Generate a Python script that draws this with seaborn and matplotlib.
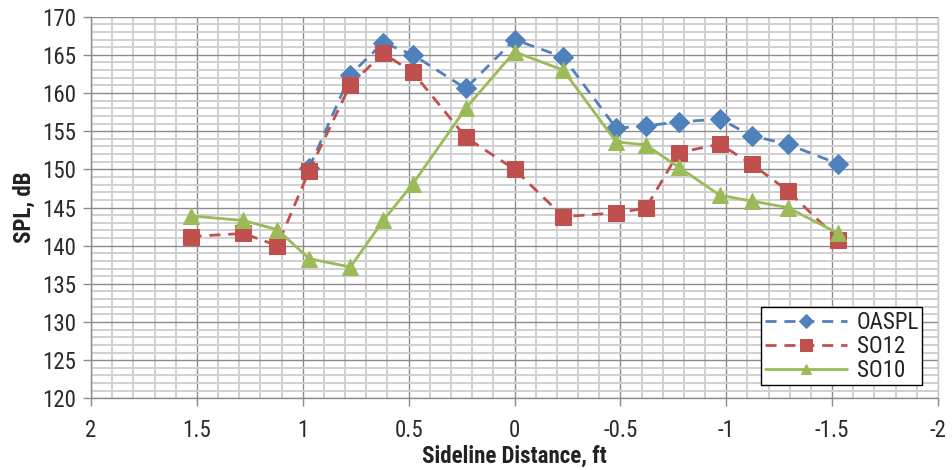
import matplotlib
matplotlib.use("Agg")
import matplotlib.pyplot as plt
from matplotlib.ticker import MultipleLocator
import seaborn as sns

# Sideline positions (ft) and measured levels (dB)
dist_all = [1.53, 1.28, 1.12, 0.97, 0.775, 0.62, 0.48, 0.23, 0.0,
            -0.23, -0.48, -0.62, -0.775, -0.97, -1.12, -1.29, -1.53]
dist_oaspl = dist_all[3:]

oaspl = [150.2, 162.4, 166.6, 165.0, 160.6, 167.0, 164.7, 155.4, 155.7,
         156.2, 156.6, 154.4, 153.3, 150.7]
so12 = [141.2, 141.6, 140.0, 149.8, 161.1, 165.2, 162.7, 154.2, 150.0,
        143.8, 144.3, 144.9, 152.2, 153.3, 150.7, 147.2, 140.8]
so10 = [143.9, 143.3, 142.1, 138.3, 137.2, 143.3, 148.1, 158.0, 165.4,
        163.0, 153.6, 153.2, 150.3, 146.6, 145.85, 145.0, 141.6]

x_ticks = [2, 1.5, 1, 0.5, 0, -0.5, -1, -1.5, -2]
x_tick_labels = ["2", "1.5", "1", "0.5", "0", "-0.5", "-1", "-1.5", "-2"]
y_ticks = list(range(120, 171, 5))

sns.set_theme(style="white")
plt.rcParams["font.family"] = ["Roboto Condensed", "DejaVu Sans Condensed",
                               "Liberation Sans Narrow", "Liberation Sans",
                               "DejaVu Sans"]

fig = plt.figure(figsize=(9.52, 4.70), dpi=100)
ax = fig.add_axes([0.0956, 0.1525, 0.8897, 0.812])

blue, red, green = "#4F81BD", "#C0504D", "#9BBB59"
dash = (0, (4, 2.8))

sns.lineplot(x=dist_oaspl, y=oaspl, ax=ax, color=blue, lw=2, linestyle=dash,
             marker="D", markersize=10.5, markeredgecolor=blue, label="OASPL",
             sort=False, zorder=3)
sns.lineplot(x=dist_all, y=so12, ax=ax, color=red, lw=2, linestyle=dash,
             marker="s", markersize=12, markeredgecolor=red, label="SO12",
             sort=False, zorder=4)
sns.lineplot(x=dist_all, y=so10, ax=ax, color=green, lw=2, linestyle="-",
             marker="^", markersize=11, markeredgecolor=green, label="SO10",
             sort=False, zorder=5)

ax.set_xlim(2, -2)
ax.set_ylim(120, 170)
ax.set_xticks(x_ticks)
ax.set_xticklabels(x_tick_labels)
ax.set_yticks(y_ticks)
ax.xaxis.set_minor_locator(MultipleLocator(0.1))
ax.yaxis.set_minor_locator(MultipleLocator(1))

ax.grid(which="major", color="#8c8c8c", lw=1.0, zorder=1)
ax.grid(which="minor", color="#d0d0d0", lw=1.4, zorder=0)
ax.set_axisbelow(True)

for side in ["top", "right", "left", "bottom"]:
    ax.spines[side].set_color("#8c8c8c")
    ax.spines[side].set_linewidth(1.0)
ax.spines["top"].set_visible(False)
ax.spines["right"].set_color("#c8c8c8")

ax.tick_params(axis="both", which="major", direction="out", length=6,
               width=1, color="#8c8c8c", labelsize=16.5, labelcolor="#2a2a2a",
               bottom=True, left=True)
ax.tick_params(axis="x", which="major", pad=9)
ax.tick_params(axis="y", which="major", pad=5)
ax.tick_params(which="minor", length=0)

ax.set_xlabel("Sideline Distance, ft", fontsize=16.5, fontweight="bold",
              color="#222222", labelpad=2)
ax.set_ylabel("SPL, dB", fontsize=16.5, fontweight="bold", color="#222222",
              labelpad=4)

leg = ax.legend(loc="lower right", bbox_to_anchor=(0.9815, 0.034),
                borderaxespad=0, frameon=True, fancybox=False,
                edgecolor="black", framealpha=1, fontsize=16.5,
                handlelength=3.6, borderpad=0.15, labelspacing=0.05,
                handletextpad=0.4, markerscale=0.7)
leg.get_frame().set_linewidth(1.0)
for t in leg.get_texts():
    t.set_color("#222222")

fig.savefig("out.png", dpi=100)
